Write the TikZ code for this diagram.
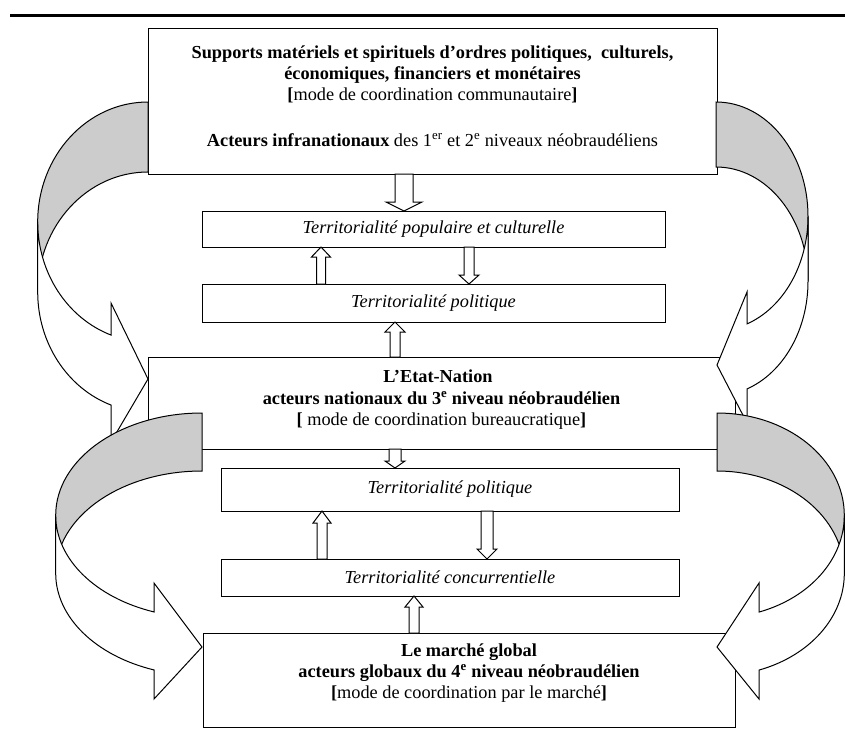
\documentclass[tikz,border=0pt]{standalone}
\usepackage{fontspec}
\setmainfont{Liberation Serif}
\usetikzlibrary{calc}
\definecolor{bandgray}{RGB}{204,204,204}
\newcommand\blkdown[6]{%
  \draw[blk] let \p1=(#2.south), \p2=(#3.north) in
  (#1pt-#4pt,\y1) -- (#1pt-#4pt,\y2+#6pt) -- (#1pt-#5pt,\y2+#6pt) -- (#1pt,\y2)
  -- (#1pt+#5pt,\y2+#6pt) -- (#1pt+#4pt,\y2+#6pt) -- (#1pt+#4pt,\y1) -- cycle;}
\newcommand\blkup[6]{%
  \draw[blk] let \p1=(#2.north), \p2=(#3.south) in
  (#1pt-#4pt,\y1) -- (#1pt-#4pt,\y2-#6pt) -- (#1pt-#5pt,\y2-#6pt) -- (#1pt,\y2)
  -- (#1pt+#5pt,\y2-#6pt) -- (#1pt+#4pt,\y2-#6pt) -- (#1pt+#4pt,\y1) -- cycle;}
\begin{document}
\begin{tikzpicture}[x=1pt,y=-1pt,
  box/.style={draw,line width=1pt,fill=white,inner sep=0pt,outer sep=0pt},
  ibox/.style={box,font=\fontsize{18.3}{21}\selectfont\itshape},
  txt/.style={font=\fontsize{18.3}{21}\selectfont,inner sep=0pt,anchor=base},
  blk/.style={draw,line width=1pt,fill=white,line join=miter},
  band/.style={draw,line width=1pt,line join=miter}]
\useasboundingbox (0,0) rectangle (845,742);
% top rule
\draw[line width=3pt] (10,15) -- (845,15);
% boxes
\node[box,minimum width=569pt,minimum height=146pt] (boxT) at (432.5,101) {};
\node[ibox,minimum width=463pt,minimum height=36pt] (boxA) at (433.5,229) {Territorialité populaire et culturelle};
\node[ibox,minimum width=463pt,minimum height=38pt] (boxB) at (433.5,303) {Territorialité politique};
\node[box,minimum width=587pt,minimum height=92pt] (boxC) at (441.5,403) {};
\node[ibox,minimum width=458pt,minimum height=43pt] (boxD) at (450,489.5) {Territorialité politique};
\node[ibox,minimum width=458pt,minimum height=37pt] (boxE) at (450,577.5) {Territorialité concurrentielle};
\node[box,minimum width=532pt,minimum height=94pt] (boxF) at (469,680) {};
% texts
\node[txt] (t1) at (432.5,58) {\textbf{Supports matériels et spirituels d’ordres politiques,\ \ culturels,}};
\node[txt] (t2) at (432.5,79) {\textbf{économiques, financiers et monétaires}};
\node[txt] (t3) at (432.5,100) {\textbf{[}mode de coordination communautaire\textbf{]}};
\node[txt] (t4) at (432.5,146) {\textbf{Acteurs infranationaux} des 1\textsuperscript{er} et 2\textsuperscript{e} niveaux néobraudéliens};
\node[txt] (c1) at (438,382) {\textbf{L’Etat-Nation}};
\node[txt] (c2) at (441.5,404) {\textbf{acteurs nationaux du 3\textsuperscript{e} niveau néobraudélien}};
\node[txt] (c3) at (441.5,425) {\textbf{[} mode de coordination bureaucratique\textbf{]}};
\node[txt] (f1) at (469,656) {\textbf{Le marché global}};
\node[txt] (f2) at (469,677) {\textbf{acteurs globaux du 4\textsuperscript{e} niveau néobraudélien}};
\node[txt] (f3) at (469,698) {\textbf{[}mode de coordination par le marché\textbf{]}};
% small block arrows
\blkdown{404}{boxT}{boxA}{9}{18}{9}
\blkup{321}{boxB}{boxA}{4.5}{9.5}{10}
\blkdown{469}{boxA}{boxB}{5}{10}{9}
\blkup{395}{boxC}{boxB}{5}{10}{10}
\blkdown{395}{boxC}{boxD}{6}{10}{7}
\blkup{322}{boxE}{boxD}{5}{9}{12}
\blkdown{487}{boxD}{boxE}{6}{10}{10}
\blkup{414}{boxF}{boxE}{5}{9}{11}
% upper-left curved arrow
\coordinate (ulA) at (148,222);
\coordinate (ulB) at (148,292);
\draw[band,fill=bandgray] ($(ulA)+(90:110.3pt and 120pt)$)
  arc[start angle=90,end angle=180,x radius=110.3pt,y radius=120pt]
  -- ($(ulB)+(180:110.3pt and 120pt)$)
  arc[start angle=180,end angle=90,x radius=110.3pt,y radius=120pt] -- cycle;
\draw[band,fill=white] ($(ulA)+(180:110.3pt and 120pt)$)
  arc[start angle=180,end angle=250.4,x radius=110.3pt,y radius=120pt]
  -- (111,303) -- (148,379) -- (111,442)
  -- ($(ulB)+(250.4:110.3pt and 120pt)$)
  arc[start angle=250.4,end angle=180,x radius=110.3pt,y radius=120pt] -- cycle;
% upper-right curved arrow
\coordinate (urA) at (716,216.3);
\coordinate (urB) at (716,281.3);
\draw[band,fill=bandgray] ($(urA)+(90:92pt and 114.3pt)$)
  arc[start angle=90,end angle=0,x radius=92pt,y radius=114.3pt]
  -- ($(urB)+(0:92pt and 114.3pt)$)
  arc[start angle=0,end angle=90,x radius=92pt,y radius=114.3pt] -- cycle;
\draw[band,fill=white] ($(urA)+(0:92pt and 114.3pt)$)
  arc[start angle=0,end angle=-70.3,x radius=92pt,y radius=114.3pt]
  -- (747,292) -- (717,365) -- (747,423)
  -- ($(urB)+(-70.3:92pt and 114.3pt)$)
  arc[start angle=-70.3,end angle=0,x radius=92pt,y radius=114.3pt] -- cycle;
% lower-left curved arrow
\coordinate (llA) at (202,515.3);
\coordinate (llB) at (202,573.3);
\draw[band,fill=bandgray] ($(llA)+(90:146.3pt and 102.3pt)$)
  arc[start angle=90,end angle=180,x radius=146.3pt,y radius=102.3pt]
  -- ($(llB)+(180:146.3pt and 102.3pt)$)
  arc[start angle=180,end angle=90,x radius=146.3pt,y radius=102.3pt] -- cycle;
\draw[band,fill=white] ($(llA)+(180:146.3pt and 102.3pt)$)
  arc[start angle=180,end angle=250.85,x radius=146.3pt,y radius=102.3pt]
  -- (154,583) -- (202,647) -- (154,699)
  -- ($(llB)+(250.85:146.3pt and 102.3pt)$)
  arc[start angle=250.85,end angle=180,x radius=146.3pt,y radius=102.3pt] -- cycle;
% lower-right curved arrow
\coordinate (lrA) at (717,515.4);
\coordinate (lrB) at (717,573.4);
\draw[band,fill=bandgray] ($(lrA)+(90:127.3pt and 102.4pt)$)
  arc[start angle=90,end angle=0,x radius=127.3pt,y radius=102.4pt]
  -- ($(lrB)+(0:127.3pt and 102.4pt)$)
  arc[start angle=0,end angle=90,x radius=127.3pt,y radius=102.4pt] -- cycle;
\draw[band,fill=white] ($(lrA)+(0:127.3pt and 102.4pt)$)
  arc[start angle=0,end angle=-70.7,x radius=127.3pt,y radius=102.4pt]
  -- (759,583) -- (717,647) -- (759,699)
  -- ($(lrB)+(-70.7:127.3pt and 102.4pt)$)
  arc[start angle=-70.7,end angle=0,x radius=127.3pt,y radius=102.4pt] -- cycle;
\end{tikzpicture}
\end{document}
